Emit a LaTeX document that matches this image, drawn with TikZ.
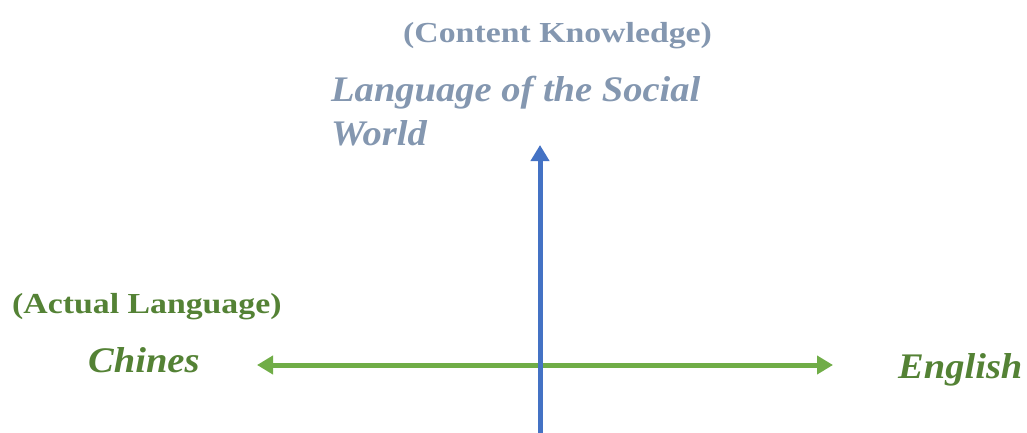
\documentclass[tikz,border=0pt]{standalone}
\usepackage{fontspec}
\setmainfont{Liberation Serif}
\newfontfamily\uprfont[FakeStretch=1.165]{Liberation Serif}
\newfontfamily\itfont[FakeStretch=1.07]{Liberation Serif}
\usetikzlibrary{arrows.meta}
\definecolor{axisblue}{HTML}{4472C4}
\definecolor{axisgreen}{HTML}{70AD47}
\definecolor{labgrey}{HTML}{8497B0}
\definecolor{labgreen}{HTML}{548235}
\tikzset{
  lab/.style={inner sep=0pt, anchor=base west, font=\uprfont\bfseries\fontsize{29}{34}\selectfont},
  biglab/.style={inner sep=0pt, anchor=base west, font=\itfont\bfseries\itshape\fontsize{36}{42}\selectfont},
  axis/.style={line width=5pt, -{Triangle[width=18pt,length=16pt]}},
}
\begin{document}
\begin{tikzpicture}[x=1pt,y=-1pt]
\useasboundingbox (0,0) rectangle (1027,433);
\node[lab, text=labgrey] (ck) at (403,43) {(Content Knowledge)};
\node[biglab, text=labgrey] (ls1) at (331,102) {Language of the Social};
\node[biglab, text=labgrey] (ls2) at (331,145) {World};
\node[lab, text=labgreen] (al) at (12,313) {(Actual Language)};
\node[biglab, text=labgreen] (ch) at (88,372) {Chines};
\node[biglab, text=labgreen] (en) at (898,378) {English};
\coordinate (vb) at (540,433);
\coordinate (vt) at (540,145);
\coordinate (hl) at (257,365);
\coordinate (hr) at (833,365);
\draw[axis, draw=axisgreen, fill=axisgreen, {Triangle[width=18pt,length=16pt]}-{Triangle[width=18pt,length=16pt]}] (hl) -- (hr);
\draw[axis, draw=axisblue, fill=axisblue] (vb) -- (vt);
\end{tikzpicture}
\end{document}
